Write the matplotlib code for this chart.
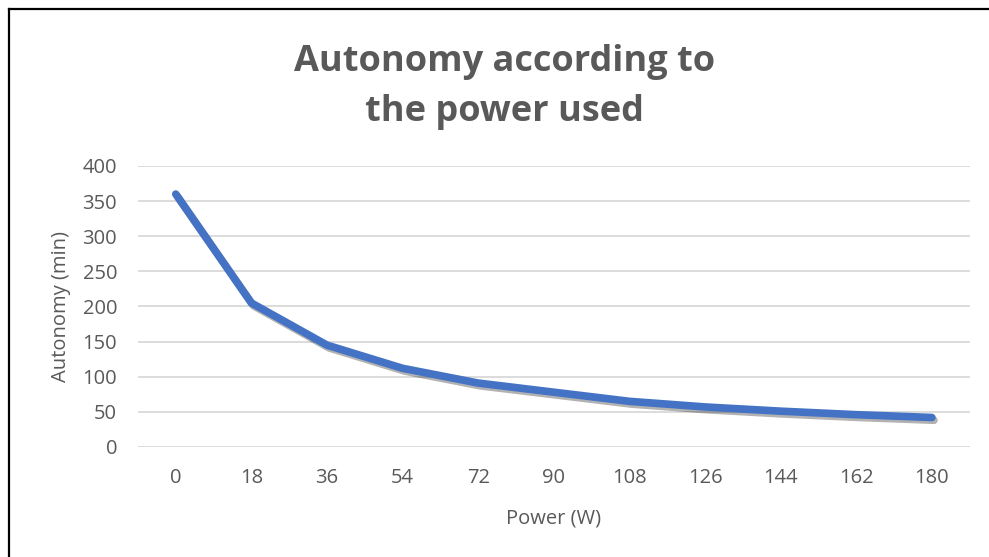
import matplotlib

matplotlib.use("Agg")
import matplotlib.pyplot as plt
import matplotlib.patheffects as pe
from matplotlib.lines import Line2D

# power (W) categories and autonomy (min)
power = [0, 18, 36, 54, 72, 90, 108, 126, 144, 162, 180]
autonomy = [360, 205, 145, 112, 91, 78, 65, 57, 51, 46, 42]
y_ticks = [0, 50, 100, 150, 200, 250, 300, 350, 400]

plt.rcParams["font.family"] = ["Open Sans", "DejaVu Sans"]
GREY = "#595959"

fig = plt.figure(figsize=(9.89, 5.57), dpi=100)
ax = fig.add_axes([0.1395, 0.1975, 0.841, 0.5045])

idx = list(range(len(power)))
ax.plot(idx, autonomy, color="#4472C4", lw=5.5, solid_capstyle="round",
        solid_joinstyle="round",
        path_effects=[pe.SimpleLineShadow(offset=(1.5, -2), shadow_color="black", alpha=0.3),
                      pe.Normal()])

ax.set_xlim(-0.5, len(power) - 0.5)
ax.set_ylim(0, 400)
ax.set_yticks(y_ticks)
ax.set_xticks(idx)
ax.set_xticklabels([str(p) for p in power])
ax.grid(axis="y", color="#d9d9d9", lw=1.3)
ax.set_axisbelow(True)
for s in ax.spines.values():
    s.set_visible(False)
ax.tick_params(length=0, colors=GREY, labelsize=14.5)
ax.tick_params(axis="x", pad=15)
ax.tick_params(axis="y", pad=15)

ax.set_xlabel("Power (W)", color=GREY, fontsize=14.5, labelpad=15)
ax.set_ylabel("Autonomy (min)", color=GREY, fontsize=14.5, labelpad=8)

fig.text(0.51, 0.844, "Autonomy according to\nthe power used", ha="center", va="center",
         fontsize=26, fontweight="bold", color=GREY, linespacing=1.5)

# black frame on the top and left edges of the screenshot
fig.add_artist(Line2D([0.009, 0.009], [0, 0.984], color="black", lw=1.6))
fig.add_artist(Line2D([0.009, 1], [0.984, 0.984], color="black", lw=1.6))

fig.savefig("out.png", dpi=100)
